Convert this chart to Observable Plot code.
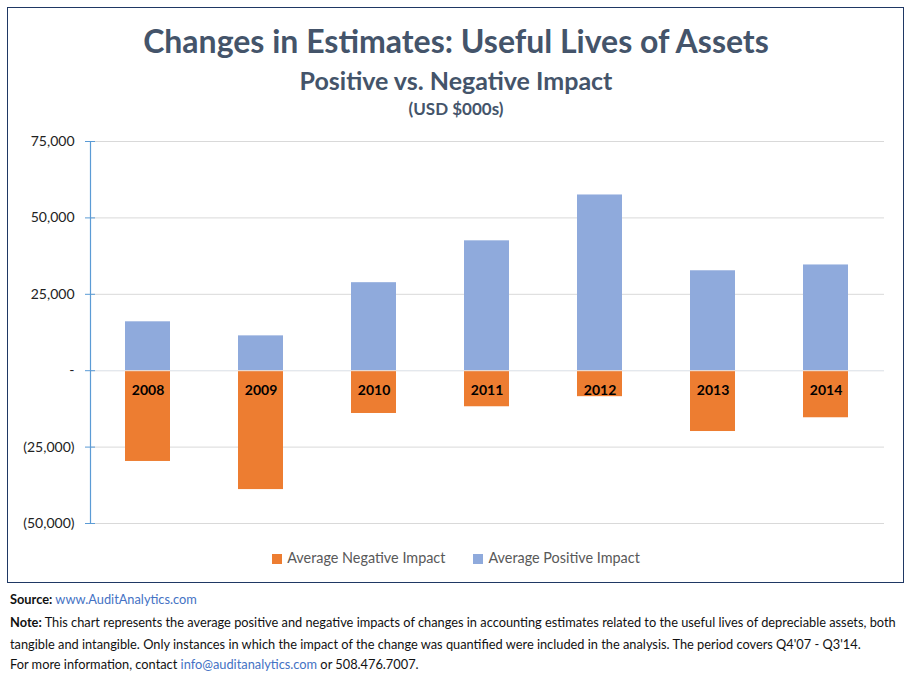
<!DOCTYPE html>
<html><head><meta charset="utf-8">
<script src="https://cdn.jsdelivr.net/npm/d3@7"></script>
<script src="https://cdn.jsdelivr.net/npm/@observablehq/plot@0.6"></script>
<style>
body{margin:0;background:#fff;font-family:Lato,"Open Sans",sans-serif;}
#page{position:relative;width:912px;height:679px;overflow:hidden;}
#frame{position:absolute;left:7px;top:7px;width:895px;height:574px;border:1.5px solid #1F3864;}
.t{position:absolute;left:0;width:912px;text-align:center;color:#44546A;font-weight:bold;}
#chart{position:absolute;left:0;top:130px;}
#legend{position:absolute;top:549px;left:0;width:912px;text-align:center;font-size:14.4px;color:#595959;}
#legend span.sw{display:inline-block;width:10px;height:10px;margin-right:5px;vertical-align:-1px;}
#legend .item{margin:0 14px;}
.foot{position:absolute;left:10px;font-size:12.8px;color:#111;white-space:nowrap;}
.foot a{color:#4472C4;text-decoration:none;}
</style></head>
<body><div id="page">
<div id="frame"></div>
<div class="t" style="top:21px;font-size:32px;">Changes in Estimates: Useful Lives of Assets</div>
<div class="t" style="top:65px;font-size:25px;">Positive vs. Negative Impact</div>
<div class="t" style="top:98px;font-size:17px;">(USD $000s)</div>
<div id="chart"></div>
<div id="legend"><span class="item"><span class="sw" style="background:#ED7D31"></span>Average Negative Impact</span><span class="item"><span class="sw" style="background:#8FAADC"></span>Average Positive Impact</span></div>
<div class="foot" style="top:591px;"><b>Source:</b> <a>www.AuditAnalytics.com</a></div>
<div class="foot" style="top:614px;"><b>Note:</b> This chart represents the average positive and negative impacts of changes in accounting estimates related to the useful lives of depreciable assets, both</div>
<div class="foot" style="top:636px;">tangible and intangible. Only instances in which the impact of the change was quantified were included in the analysis. The period covers Q4'07 - Q3'14.</div>
<div class="foot" style="top:656px;">For more information, contact <a>info@auditanalytics.com</a> or 508.476.7007.</div>
</div>
<script>
const years = ["2008","2009","2010","2011","2012","2013","2014"];
const positive = [16000, 11400, 28800, 42500, 57500, 32700, 34600];
const negative = [-29700, -38900, -14000, -11800, -8500, -19900, -15400];
const yTicks = [-50000, -25000, 0, 25000, 50000, 75000];
const seriesNames = ["Average Negative Impact", "Average Positive Impact"];
const seriesColors = ["#ED7D31", "#8FAADC"];

const data = [];
years.forEach((y, i) => {
  data.push({year: y, series: seriesNames[1], value: positive[i]});
  data.push({year: y, series: seriesNames[0], value: negative[i]});
});
const fmt = v => v === 0 ? "-" : v < 0 ? "(" + d3.format(",")(-v) + ")" : d3.format(",")(v);

const chart = Plot.plot({
  width: 912, height: 410,
  marginTop: 11, marginBottom: 17, marginLeft: 90, marginRight: 28,
  style: {fontFamily: "Lato, 'Open Sans', sans-serif", fontSize: "14px", color: "#222"},
  x: {domain: years, paddingInner: 0.6, paddingOuter: 0.3, axis: null},
  y: {domain: [-50000, 75000], ticks: yTicks, axis: null},
  color: {domain: seriesNames, range: seriesColors},
  marks: [
    Plot.gridY(yTicks, {stroke: "#D9D9D9", strokeOpacity: 1}),
    Plot.barY(data, {x: "year", y1: 0, y2: "value", fill: "series"}),
    Plot.ruleY([0], {stroke: "#E6EAF0", strokeWidth: 1}),
    Plot.text(years, {x: d => d, y: () => 0, dy: 20, text: d => d, fontWeight: "bold", fontSize: 14, fill: "#000"}),
    Plot.frame({anchor: "left", stroke: "#5B9BD5", strokeWidth: 1.2}),
    Plot.axisY(yTicks, {tickSize: 10, dx: 5, tickFormat: () => "", stroke: "#5B9BD5", label: null}),
    Plot.axisY(yTicks, {tickSize: 0, tickPadding: 16, tickFormat: fmt, fill: "#222", fontSize: 14, label: null})
  ]
});
document.getElementById("chart").appendChild(chart);
</script>
</body></html>
